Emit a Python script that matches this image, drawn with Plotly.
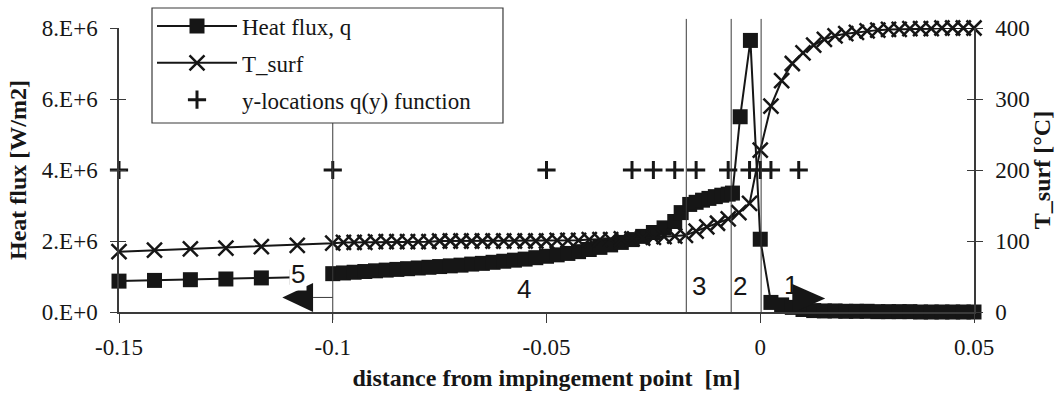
import plotly.graph_objects as go

# ---------------- data ----------------
# Heat flux q [W/m2] – zones 5,4,3,2,1 (zone 5 is a separate segment)
q_x_zone5 = [-0.15, -0.1417, -0.1333, -0.125, -0.1167, -0.1083]
q_zone5 = [0.87e6, 0.89e6, 0.91e6, 0.93e6, 0.96e6, 0.98e6]

x_zone4 = [-0.1, -0.0975, -0.095, -0.0925, -0.09, -0.0875, -0.085, -0.0825, -0.08,
           -0.0775, -0.075, -0.0725, -0.07, -0.0675, -0.065, -0.0625, -0.06, -0.0575,
           -0.055, -0.0525, -0.05, -0.0475, -0.045, -0.0425, -0.04, -0.0375, -0.035,
           -0.0325, -0.03, -0.0275, -0.025, -0.0225, -0.02]
q_zone4 = [1.08e6, 1.10e6, 1.12e6, 1.14e6, 1.16e6, 1.18e6, 1.20e6, 1.22e6, 1.24e6,
           1.26e6, 1.28e6, 1.30e6, 1.32e6, 1.35e6, 1.37e6, 1.40e6, 1.43e6, 1.46e6,
           1.49e6, 1.53e6, 1.57e6, 1.61e6, 1.65e6, 1.70e6, 1.76e6, 1.82e6, 1.89e6,
           1.96e6, 2.04e6, 2.13e6, 2.24e6, 2.37e6, 2.55e6]

q_x_zone3 = [-0.0185, -0.0165, -0.015, -0.0135, -0.012, -0.0105, -0.009, -0.0075, -0.0065]
q_zone3 = [2.80e6, 3.03e6, 3.09e6, 3.15e6, 3.20e6, 3.25e6, 3.29e6, 3.32e6, 3.35e6]

q_x_zone2 = [-0.0047, -0.0023, 0.0]
q_zone2 = [5.50e6, 7.65e6, 2.05e6]

x_zone1 = [0.0025, 0.005, 0.0075, 0.01, 0.0125, 0.015, 0.0175, 0.02, 0.0225, 0.025,
           0.0275, 0.03, 0.0325, 0.035, 0.0375, 0.04, 0.0425, 0.045, 0.0475, 0.05]
q_zone1 = [0.27e6, 0.20e6, 0.13e6, 0.07e6, 0.04e6, 0.03e6, 0.03e6, 0.02e6, 0.02e6, 0.02e6,
           0.01e6, 0.01e6, 0.01e6, 0.01e6, 0.0, 0.0, 0.0, 0.0, 0.0, 0.0]

# Surface temperature T_surf [°C]
T_zone5 = [85, 87, 89, 90, 92, 94]
T_zone4 = [97, 98, 98, 98, 99, 99, 99, 99, 99, 99, 100, 100, 100, 100, 100, 100, 100,
           100, 100, 100, 100, 101, 101, 101, 102, 102, 102, 103, 103, 104, 105, 106, 107]
T_x_zone3 = [-0.0175, -0.015, -0.0125, -0.01, -0.0075]
T_zone3 = [108, 114, 120, 125, 131]
T_x_zone2 = [-0.005, -0.0025, 0.0]
T_zone2 = [140, 153, 228]
T_zone1 = [290, 326, 350, 365, 376, 384, 389, 392, 394, 396,
           397, 398, 398, 399, 399, 399, 400, 400, 400, 400]

# y-locations of the q(y) function
yloc_x = [-0.15, -0.1, -0.05, -0.03, -0.025, -0.02, -0.015, -0.0075, -0.0025, 0.0, 0.0025, 0.009]
yloc_y = [4e6] * len(yloc_x)

# zone boundaries and zone labels
zone_lines = [-0.0173, -0.0068, 0.0002]
zone5_boundary = -0.1
zone_labels = ["5", "4", "3", "2", "1"]
zone_label_x = [-0.1081, -0.0552, -0.0143, -0.0047, 0.0073]
zone_label_y = [1.07e6, 0.66e6, 0.73e6, 0.73e6, 0.76e6]

# axis ticks
q_ticks = [0, 2e6, 4e6, 6e6, 8e6]
q_ticktext = ["0.E+0", "2.E+6", "4.E+6", "6.E+6", "8.E+6"]
T_ticks = [0, 100, 200, 300, 400]
T_ticktext = ["0", "100", "200", "300", "400"]
x_ticks = [-0.15, -0.1, -0.05, 0, 0.05]
x_ticktext = ["-0.15", "-0.1", "-0.05", "0", "0.05"]

# ---------------- figure ----------------
INK = "#161616"
AX = "#3a3a3a"
SERIF = "Liberation Serif"
SANS = "Liberation Sans"

q_x = q_x_zone5 + [None] + x_zone4 + q_x_zone3 + q_x_zone2 + x_zone1
q_y = q_zone5 + [None] + q_zone4 + q_zone3 + q_zone2 + q_zone1
T_x = q_x_zone5 + x_zone4 + T_x_zone3 + T_x_zone2 + x_zone1
T_y = T_zone5 + T_zone4 + T_zone3 + T_zone2 + T_zone1

fig = go.Figure()
fig.add_trace(go.Scatter(
    x=q_x, y=q_y, mode="lines+markers", name="Heat flux, q",
    line=dict(color=INK, width=2),
    marker=dict(symbol="square", size=15, color=INK),
    cliponaxis=False, connectgaps=False, legendgroup="g1"))
fig.add_trace(go.Scatter(
    x=T_x, y=T_y, yaxis="y2", mode="lines+markers", name="T_surf",
    line=dict(color=INK, width=2),
    marker=dict(symbol="x-thin", size=15, color=INK, line=dict(color=INK, width=2.5)),
    cliponaxis=False, legendgroup="g2"))
fig.add_trace(go.Scatter(
    x=yloc_x, y=yloc_y, mode="markers", name="y-locations q(y) function",
    marker=dict(symbol="cross-thin", size=13, color=INK, line=dict(color=INK, width=3)),
    cliponaxis=False, legendgroup="g3"))
# dummy traces so the inner-tick overlay axes are drawn
fig.add_trace(go.Scatter(x=[None], y=[None], yaxis="y3", showlegend=False, hoverinfo="skip"))
fig.add_trace(go.Scatter(x=[None], y=[None], yaxis="y4", showlegend=False, hoverinfo="skip"))

tickfont = dict(family=SERIF, size=23, color=INK)
titlefont = dict(family=SERIF, size=24, color=INK, weight="bold")

shapes = []
for xv in zone_lines:
    shapes.append(dict(type="line", xref="x", yref="paper", x0=xv, x1=xv, y0=-0.004, y1=1.032,
                       line=dict(color=AX, width=1)))
shapes.append(dict(type="line", xref="x", yref="paper", x0=zone5_boundary, x1=zone5_boundary,
                   y0=-0.028, y1=1.011, line=dict(color=AX, width=1)))
# arrows
shapes.append(dict(type="path", xref="x", yref="y",
                   path="M -0.1118,410000 L -0.1046,820000 L -0.1046,0 Z",
                   fillcolor=INK, line=dict(width=0)))
shapes.append(dict(type="line", xref="x", yref="y", x0=-0.1046, x1=zone5_boundary,
                   y0=410000, y1=410000, line=dict(color=AX, width=1)))
shapes.append(dict(type="path", xref="x", yref="y",
                   path="M 0.0152,380000 L 0.0075,790000 L 0.0075,-30000 Z",
                   fillcolor=INK, line=dict(width=0)))
# legend frame
shapes.append(dict(type="rect", xref="paper", yref="paper", x0=0.0386, x1=0.4491,
                   y0=0.6655, y1=1.0704, fillcolor="white", layer="above",
                   line=dict(color=AX, width=1.2)))

annotations = []
for t, xv, yv in zip(zone_labels, zone_label_x, zone_label_y):
    annotations.append(dict(text=t, x=xv, y=yv, xref="x", yref="y", showarrow=False,
                            font=dict(family=SANS, size=26, color=INK),
                            bgcolor="white" if t == "5" else "rgba(0,0,0,0)", borderpad=1))

fig.update_layout(
    width=1055, height=396,
    margin=dict(l=119, r=81, t=28, b=84, autoexpand=False),
    paper_bgcolor="white", plot_bgcolor="white",
    showlegend=True,
    legend=dict(x=0.0386, y=1.083, xanchor="left", yanchor="top",
                bgcolor="rgba(0,0,0,0)", borderwidth=0,
                font=dict(family=SERIF, size=23, color=INK),
                tracegroupgap=4, itemwidth=80),
    xaxis=dict(range=[-0.15, 0.05], tickvals=x_ticks, ticktext=x_ticktext, automargin=False,
               ticks="outside", ticklen=9, tickwidth=1, tickcolor=AX,
               showline=True, linecolor=AX, linewidth=1.5, showgrid=False, zeroline=False,
               tickfont=tickfont, ticklabelstandoff=5,
               title=dict(text="distance from impingement point \u00a0[m]", font=titlefont, standoff=10)),
    yaxis=dict(range=[0, 8e6], tickvals=q_ticks, ticktext=q_ticktext, automargin=False,
               ticks="outside", ticklen=7, tickwidth=1, tickcolor=AX,
               showline=True, linecolor=AX, linewidth=1.5, showgrid=False, zeroline=False,
               tickfont=tickfont, ticklabelstandoff=8,
               title=dict(text="Heat flux [W/m2]", font=titlefont, standoff=8)),
    yaxis2=dict(range=[0, 400], overlaying="y", side="right", anchor="x", automargin=False,
                tickvals=T_ticks, ticktext=T_ticktext,
                ticks="outside", ticklen=7, tickwidth=1, tickcolor=AX,
                showline=True, linecolor=AX, linewidth=1.5, showgrid=False, zeroline=False,
                tickfont=tickfont, ticklabelstandoff=8,
                title=dict(text="T_surf [°C]", font=titlefont, standoff=6)),
    yaxis3=dict(range=[0, 8e6], overlaying="y", side="left", anchor="x", automargin=False,
                tickvals=q_ticks, ticks="inside", ticklen=7, tickwidth=1, tickcolor=AX,
                showticklabels=False, showline=False, showgrid=False, zeroline=False),
    yaxis4=dict(range=[0, 400], overlaying="y", side="right", anchor="x", automargin=False,
                tickvals=T_ticks, ticks="inside", ticklen=7, tickwidth=1, tickcolor=AX,
                showticklabels=False, showline=False, showgrid=False, zeroline=False),
    shapes=shapes,
    annotations=annotations,
)

fig.write_html("out.html")
